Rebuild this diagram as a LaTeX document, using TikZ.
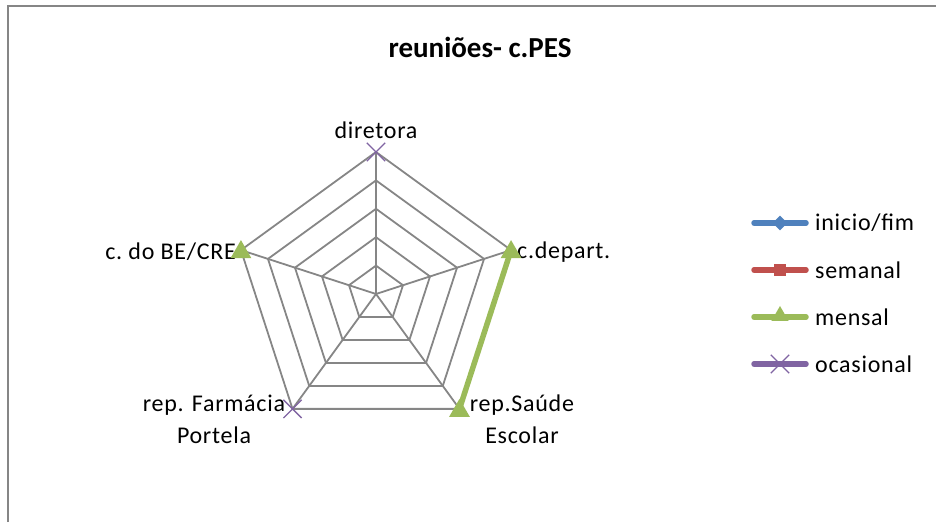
\documentclass[tikz,border=0pt]{standalone}
\usepackage{fontspec}
\setmainfont{Carlito}
\usetikzlibrary{calc,shapes.geometric,shapes.misc}
\definecolor{gridgray}{HTML}{868686}
\definecolor{iniblue}{HTML}{4F81BD}
\definecolor{semred}{HTML}{C0504D}
\definecolor{mengreen}{HTML}{9BBB59}
\definecolor{ocapurple}{HTML}{8064A2}
\tikzset{
  grid/.style={draw=gridgray, line width=1.8pt},
  lab/.style={font=\fontsize{24}{32}\selectfont\addfontfeature{LetterSpace=3}, inner sep=0pt, align=center},
  tri/.style={regular polygon, regular polygon sides=3, fill=mengreen, inner sep=0pt, minimum size=24pt},
  xmark/.style={cross out, draw=ocapurple, line width=1.3pt, inner sep=0pt, minimum size=17pt},
  serie/.style={line width=5.5pt, line cap=round},
}
\begin{document}
\begin{tikzpicture}[x=1pt, y=1pt]
  \useasboundingbox (0,0) rectangle (936,522);
  \draw[gridgray, line width=1.5pt] (8,0) -- (8,516) -- (936,516);

  % title
  \node[font=\fontsize{29}{32}\selectfont\bfseries] (title) at (480,475) {reuniões- c.PES};

  % axes and rings
  \coordinate (c) at (376,228);
  \coordinate (dir) at ($(c)+(90:142)$);
  \foreach \r in {28.4,56.8,85.2,113.6,142}
    \draw[grid] ($(c)+(90:\r)$) -- ($(c)+(18:\r)$) -- ($(c)+(-54:\r)$) -- ($(c)+(-126:\r)$) -- ($(c)+(162:\r)$) -- cycle;
  \coordinate (dep) at ($(c)+(18:142)$);
  \coordinate (sau) at ($(c)+(-54:142)$);
  \coordinate (far) at ($(c)+(-126:142)$);
  \coordinate (be) at ($(c)+(162:142)$);
  \foreach \v in {dep,sau,far,be}
    \draw[grid] (c) -- (\v);
  \draw[grid, line width=2.8pt] (c) -- (dir);

  % labels
  \node[lab] (ldir) at (376,392) {diretora};
  \node[lab, anchor=west] (ldep) at (517,270) {c.depart.};
  \node[lab, anchor=east] (lbe) at (236,270) {c.\hspace{-2pt} do BE/CRE};
  \node[lab] (lfar) at (214,103) {rep. Farmácia\\Portela};
  \node[lab] (lsau) at (522,103) {rep.Saúde\\Escolar};

  % series
  \draw[serie, mengreen, line cap=butt] (dep) -- (sau);
  \node[tri] (m1) at ([yshift=-2pt]dep) {};
  \node[tri] (m2) at ([yshift=-2pt]sau) {};
  \node[tri] (m3) at ([yshift=-2pt]be) {};
  \node[xmark] (o1) at (dir) {};
  \node[xmark] (o2) at (far) {};

  % legend
  \coordinate (a1) at (754,299); \coordinate (b1) at (806,299);
  \coordinate (a2) at (754,252); \coordinate (b2) at (806,252);
  \coordinate (a3) at (754,205); \coordinate (b3) at (806,205);
  \coordinate (a4) at (754,158); \coordinate (b4) at (806,158);
  \draw[serie, iniblue] (a1) -- (b1);
  \draw[serie, semred] (a2) -- (b2);
  \draw[serie, mengreen] (a3) -- (b3);
  \draw[serie, ocapurple] (a4) -- (b4);
  \node[diamond, fill=iniblue, inner sep=0pt, minimum size=15pt] (k1) at ($(a1)!.5!(b1)$) {};
  \node[rectangle, fill=semred, inner sep=0pt, minimum size=12pt] (k2) at ($(a2)!.5!(b2)$) {};
  \node[tri, minimum size=20pt] (k3) at ([yshift=1pt]$(a3)!.5!(b3)$) {};
  \node[xmark] (k4) at ($(a4)!.5!(b4)$) {};
  \node[lab, anchor=west] (t1) at (815,299) {inicio/fim};
  \node[lab, anchor=west] (t2) at (815,252) {semanal};
  \node[lab, anchor=west] (t3) at (815,205) {mensal};
  \node[lab, anchor=west] (t4) at (815,158) {ocasional};
\end{tikzpicture}
\end{document}
